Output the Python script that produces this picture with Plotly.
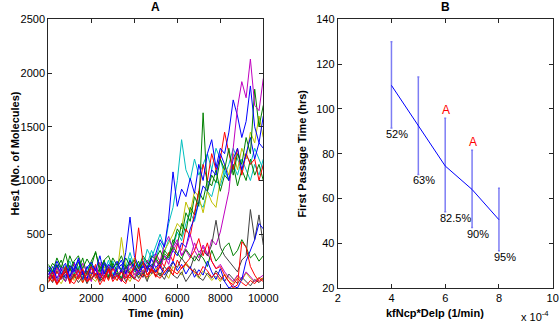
import plotly.graph_objects as go

W, H = 560, 324

# ---------------- Panel A data (Hes1 stochastic trajectories) ----------------
TIME = list(range(0, 10001, 200))

blue1 = [120,200,90,170,230,110,180,260,140,90,
         210,160,120,240,190,100,170,220,130,260,
         180,150,210,170,280,320,450,380,650,1080,
         760,920,850,1020,880,1150,1000,1250,1380,1120,
         1300,1250,1450,1750,1600,1400,1550,1880,1500,1350,
         1600]
green1 = [150,230,180,260,140,300,200,170,280,120,
          250,330,190,230,160,280,210,300,180,250,
          200,150,240,190,300,260,200,320,280,400,
          550,480,700,620,850,760,1630,900,1050,980,
          1200,1100,1300,1050,1250,1150,1400,1250,1850,1500,
          1700]
red1 = [100,60,150,90,200,40,130,80,170,60,
        120,220,90,150,70,180,110,60,140,90,
        200,160,230,120,180,140,260,200,330,250,
        400,350,550,480,700,900,1150,1000,1250,1100,
        1200,1450,1250,1100,1300,1050,1250,1150,1200,1000,
        1150]
cyan1 = [180,120,210,90,160,250,130,200,80,170,
         230,110,190,140,260,120,210,170,100,280,
         150,220,190,360,280,400,500,380,600,750,
         1000,1380,1100,1000,1200,1050,1150,1250,1100,1300,
         1200,1050,1150,1300,1200,1100,1250,1150,1300,1200,
         1100]
cyan2 = [100,170,60,140,210,90,130,180,70,150,
         120,200,80,170,110,250,140,90,190,330,
         200,160,280,220,350,260,420,330,450,380,
         520,440,600,700,620,800,750,900,850,1000,
         950,1100,1000,1150,1050,1200,1100,1000,1150,1050,
         1200]
magenta1 = [90,160,60,200,120,80,170,110,230,140,
            60,190,100,150,210,80,130,170,90,240,
            120,160,100,200,140,260,180,300,220,380,
            450,300,350,280,420,330,380,300,450,400,
            520,700,900,1300,1680,1920,1770,2130,1700,1650,
            1950]
magenta2 = [140,80,190,110,60,170,230,100,150,70,
            180,120,240,90,150,200,110,60,170,130,
            90,200,140,260,180,320,250,400,480,350,
            420,300,380,500,350,280,400,320,250,180,
            220,150,100,60,120,80,150,100,60,90,
            120]
yellow1 = [130,70,180,100,150,210,90,160,120,60,
           140,200,110,170,80,190,130,470,200,150,
           280,180,240,200,150,300,250,350,420,500,
           600,550,800,700,900,850,700,900,800,750,
           1000,1150,1050,1250,1100,1300,1200,1450,1350,1600,
           1400]
yellow2 = [60,140,90,40,120,180,70,110,50,160,
           100,60,150,200,90,130,70,180,120,60,
           140,100,170,80,130,190,110,150,90,200,
           160,120,240,180,140,90,160,120,70,110,
           60,130,90,50,110,70,140,90,60,100,
           80]
gray1 = [60,110,40,90,150,70,120,50,100,160,
         80,130,60,110,190,90,140,70,200,120,
         80,150,100,210,130,170,110,200,150,240,
         190,280,220,180,300,250,350,300,400,630,
         380,300,250,200,150,260,300,730,450,680,
         400]
gray2 = [110,50,160,80,130,60,190,90,140,40,
         120,170,70,150,90,210,100,160,60,130,
         180,90,150,60,200,110,140,80,170,120,
         90,150,60,120,180,100,70,140,90,160,
         110,60,130,80,40,100,60,20,80,50,
         90]
blue2 = [200,130,250,170,90,210,150,280,120,190,
         240,160,300,130,220,180,250,140,330,660,
         300,200,250,180,220,150,200,120,180,250,
         160,220,130,200,100,170,120,250,150,80,
         180,60,0,20,0,80,250,350,450,600,
         550]
blue3 = [160,90,210,130,180,100,240,150,80,200,
         130,170,90,220,150,110,190,260,140,180,
         230,120,200,150,270,190,240,300,260,350,
         300,420,380,550,650,800,950,900,1100,1050,
         1250,1150,1000,1200,1300,1100,1250,1400,1200,1350,
         1300]
green2 = [220,150,280,190,320,160,250,300,180,270,
          200,340,150,260,300,190,230,170,280,210,
          260,180,300,240,200,280,350,260,300,380,
          320,270,360,300,250,320,280,200,350,250,
          300,380,420,300,350,450,380,280,320,250,
          300]
green3 = [170,90,220,130,60,190,110,240,150,80,
          200,120,180,260,100,230,160,90,210,140,
          170,250,130,200,160,280,220,350,300,450,
          400,600,520,750,680,900,820,1000,950,1100,
          900,1050,1000,1150,950,1100,1000,1200,1050,1150,
          1000]
red2 = [80,150,40,120,190,60,100,170,50,130,
        200,90,140,60,180,110,70,150,90,130,
        200,560,250,120,180,100,220,150,190,120,
        260,180,230,280,350,460,300,420,250,180,
        200,120,60,0,30,430,380,200,120,60,
        100]
red3 = [50,120,30,90,160,70,40,110,180,60,
        90,140,30,100,170,60,120,80,40,150,
        90,60,130,100,170,120,90,150,200,160,
        130,190,220,180,150,120,200,160,100,140,
        80,120,60,30,90,50,20,70,40,90,
        60]

# ---------------- Panel B data ----------------
KF = [4, 5, 6, 7, 8]                     # x 10^-4 (1/min)
FPT_MEAN = [110.5, 92.3, 74.5, 64.0, 50.5]
FPT_UPPER = [130.0, 114.2, 95.8, 81.5, 64.5]
FPT_LOWER = [91.5, 70.7, 54.0, 47.0, 36.6]
PCT_LABELS = ["52%", "63%", "82.5%", "90%", "95%"]
MARKS = ["", "", "A", "A", ""]

XT_A = [2000, 4000, 6000, 8000, 10000]
YT_A = [0, 500, 1000, 1500, 2000, 2500]
XT_B = [2, 4, 6, 8, 10]
YT_B = [20, 40, 60, 80, 100, 120, 140]

BLUE = "rgb(0,0,255)"
GREEN = "rgb(0,128,0)"
RED = "rgb(255,0,0)"
CYAN = "rgb(0,191,191)"
MAGENTA = "rgb(191,0,191)"
YELLOW = "rgb(191,191,0)"
GRAY = "rgb(64,64,64)"

FONT = "Liberation Sans, Arial, sans-serif"

fig = go.Figure()

traces = [
    (cyan1, CYAN), (cyan2, CYAN), (yellow2, YELLOW), (yellow1, YELLOW),
    (green3, GREEN), (gray2, GRAY), (red1, RED), (blue3, BLUE),
    (green1, GREEN), (magenta2, MAGENTA), (blue1, BLUE), (magenta1, MAGENTA),
    (gray1, GRAY), (green2, GREEN), (blue2, BLUE), (red2, RED), (red3, RED),
]
for vals, col in traces:
    fig.add_trace(go.Scatter(x=TIME, y=vals, mode="lines",
                             line=dict(color=col, width=1),
                             xaxis="x", yaxis="y", showlegend=False,
                             hoverinfo="skip"))

err_plus = [u - m for u, m in zip(FPT_UPPER, FPT_MEAN)]
err_minus = [m - l for m, l in zip(FPT_MEAN, FPT_LOWER)]
fig.add_trace(go.Scatter(
    x=KF, y=FPT_MEAN, mode="lines",
    line=dict(color=BLUE, width=1),
    error_y=dict(type="data", symmetric=False, array=err_plus,
                 arrayminus=err_minus, color="rgba(70,70,240,0.7)",
                 thickness=1.5, width=1),
    xaxis="x2", yaxis="y2", showlegend=False))

# domains from pixel positions
def px_x(p):
    return p / W

def px_y(p):
    return 1 - p / H

axis_common = dict(showline=True, linecolor="#262626", linewidth=1,
                   mirror="ticks", ticks="inside", ticklen=4,
                   tickcolor="#262626", showgrid=False, zeroline=False,
                   tickfont=dict(family=FONT, size=11, color="black"),
                   automargin=False)

fig.update_layout(
    width=W, height=H,
    margin=dict(l=0, r=0, t=0, b=0),
    paper_bgcolor="white", plot_bgcolor="white",
    showlegend=False,
    xaxis=dict(domain=[px_x(48.3), px_x(263.3)], range=[0, 10000],
               tickvals=XT_A, tickformat="d", anchor="y", **axis_common),
    yaxis=dict(domain=[px_y(288), px_y(19.3)], range=[0, 2500],
               tickvals=YT_A, tickformat="d", anchor="x", **axis_common),
    xaxis2=dict(domain=[px_x(337.7), px_x(552.7)], range=[2, 10],
                tickvals=XT_B, anchor="y2", **axis_common),
    yaxis2=dict(domain=[px_y(288), px_y(19.3)], range=[20, 140],
                tickvals=YT_B, anchor="x2", **axis_common),
)

ann = []
bold = dict(family=FONT, size=11, color="black")
C = dict(xref="paper", yref="paper", showarrow=False, xanchor="center", yanchor="middle")
ann.append(dict(text="<b>A</b>", x=px_x(155.8), y=px_y(7),
                font=dict(family=FONT, size=12, color="black"), **C))
ann.append(dict(text="<b>B</b>", x=px_x(445), y=px_y(7),
                font=dict(family=FONT, size=12, color="black"), **C))
ann.append(dict(text="<b>Time (min)</b>", x=px_x(155.8), y=px_y(313), font=bold, **C))
ann.append(dict(text="<b>kfNcp*Delp (1/min)</b>", x=px_x(435), y=px_y(313), font=bold, **C))
ann.append(dict(text="<b>Hes1 (No. of Molecules)</b>", x=px_x(15), y=px_y(153.6),
                textangle=-90, font=bold, **C))
ann.append(dict(text="<b>First Passage Time (hrs)</b>", x=px_x(302), y=px_y(153.6),
                textangle=-90, font=bold, **C))
ann.append(dict(text="x 10<sup>-4</sup>", x=px_x(535), y=px_y(316),
                font=dict(family=FONT, size=11, color="black"), **C))

for xv, lo, hi, lab, mk in zip(KF, FPT_LOWER, FPT_UPPER, PCT_LABELS, MARKS):
    ann.append(dict(text=lab, x=xv, y=lo, xref="x2", yref="y2", showarrow=False,
                    xanchor="left", yanchor="middle", xshift=-7, yshift=-6,
                    font=dict(family=FONT, size=11, color="black")))
    if mk:
        ann.append(dict(text=mk, x=xv, y=hi, xref="x2", yref="y2", showarrow=False,
                        xanchor="center", yanchor="middle", xshift=1, yshift=8,
                        font=dict(family=FONT, size=12, color="red")))

fig.update_layout(annotations=ann)
fig.write_html("out.html", config={"displayModeBar": False},
               post_script="document.body.style.margin='0';document.body.style.overflow='hidden';")
